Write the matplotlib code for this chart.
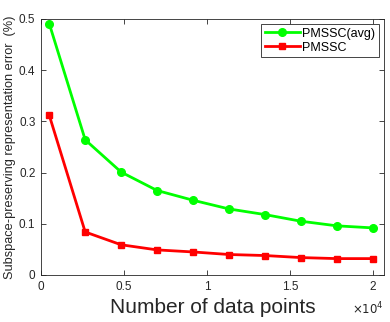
import matplotlib
matplotlib.use("Agg")
import matplotlib.pyplot as plt
from matplotlib.ticker import FuncFormatter

plt.rcParams['font.family'] = ['Liberation Sans', 'DejaVu Sans']

# data
n_points = [500, 2667, 4833, 7000, 9167, 11333, 13500, 15667, 17833, 20000]
err_avg = [0.491, 0.264, 0.201, 0.165, 0.146, 0.129, 0.118, 0.105, 0.096, 0.092]
err_best = [0.312, 0.084, 0.059, 0.049, 0.045, 0.040, 0.038, 0.034, 0.032, 0.032]

xticks = [0, 5000, 10000, 15000, 20000]
yticks = [0, 0.1, 0.2, 0.3, 0.4, 0.5]

ink = '#262626'

fig = plt.figure(figsize=(3.90, 3.22), dpi=100)
ax = fig.add_axes([0.105, 0.146, 0.879, 0.795])

ax.plot(n_points, err_avg, color='#00ff00', lw=2, marker='o', ms=5.5, label='PMSSC(avg)')
ax.plot(n_points, err_best, color='#ff0000', lw=2, marker='s', ms=5, label='PMSSC')

ax.set_xlim(0, 20660)
ax.set_ylim(0, 0.5)
ax.set_xticks(xticks)
ax.set_yticks(yticks)
ax.xaxis.set_major_formatter(FuncFormatter(lambda v, p: f"{v/1e4:g}"))
ax.yaxis.set_major_formatter(FuncFormatter(lambda v, p: f"{v:g}"))
ax.tick_params(direction='in', length=3.5, width=0.6, top=True, right=True,
               labelsize=8.5, colors=ink, pad=4)
for s in ax.spines.values():
    s.set_color(ink)
    s.set_linewidth(0.6)

ax.set_xlabel('Number of data points', fontsize=15, color=ink, labelpad=4)
ax.set_ylabel('Subspace-preserving representation error  (%)', fontsize=9.2, color=ink, labelpad=2)
ax.text(1.0, -0.10, r'$\times 10^4$', transform=ax.transAxes, ha='right', va='top',
        fontsize=8.5, color=ink)

leg = ax.legend(loc='upper right', fontsize=9, frameon=True, fancybox=False,
                edgecolor=ink, framealpha=1, borderpad=0.3, handlelength=2.8,
                handletextpad=0.2, labelspacing=0.15, borderaxespad=0.4)
leg.get_frame().set_linewidth(0.6)

fig.savefig('out.png', dpi=100)
